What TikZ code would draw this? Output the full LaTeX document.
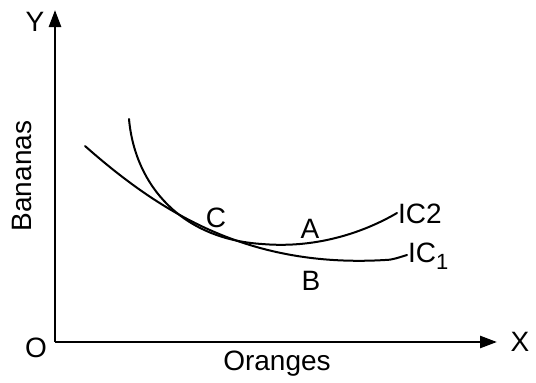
\documentclass[tikz,border=0pt]{standalone}
\usepackage{fontspec}
\setmainfont{Liberation Sans}
\usetikzlibrary{arrows.meta}
\begin{document}
\begin{tikzpicture}[x=1pt,y=-1pt,
  lbl/.style={font=\fontsize{28}{30}\selectfont, inner sep=0pt},
  axis/.style={line width=2.6pt, -{Triangle[length=17pt,width=12pt]}},
  curve/.style={line width=2pt, line cap=round}]
\useasboundingbox (0,0) rectangle (536,383);
\coordinate (o) at (55,342);
\coordinate (ytip) at (55,10);
\coordinate (xtip) at (497,342);
\draw[axis] (o) -- (ytip);
\draw[axis] (o) -- (xtip);
\node[lbl] (Y) at (35,22) {Y};
\node[lbl] (X) at (520,342) {X};
\node[lbl] (O) at (36,348) {O};
\node[lbl] (or) at (277,364) {Oranges};
\node[lbl, rotate=90] (ba) at (22,176) {Bananas};
\coordinate (ic2s) at (129,119);
\coordinate (ic2m) at (262,244);
\coordinate (ic2e) at (397,213);
\coordinate (ic1s) at (85,146);
\coordinate (ic1m) at (385,260);
\coordinate (ic1e) at (407,255);
\draw[curve] (ic2s) .. controls (135,186) and (182,239) .. (ic2m)
  .. controls (320,249) and (368,230) .. (ic2e);
\draw[curve] (ic1s) .. controls (162,214) and (250,268) .. (ic1m)
  .. controls (393,260) and (400,257) .. (ic1e);
\node[lbl, anchor=west] (ic2) at (398,214) {IC2};
\node[lbl, anchor=west] (ic1) at (408,256) {IC\raisebox{-7pt}{\fontsize{22}{22}\selectfont 1}};
\node[lbl] (C) at (216,218) {C};
\node[lbl] (A) at (310,229) {A};
\node[lbl] (B) at (311,281) {B};
\end{tikzpicture}
\end{document}
